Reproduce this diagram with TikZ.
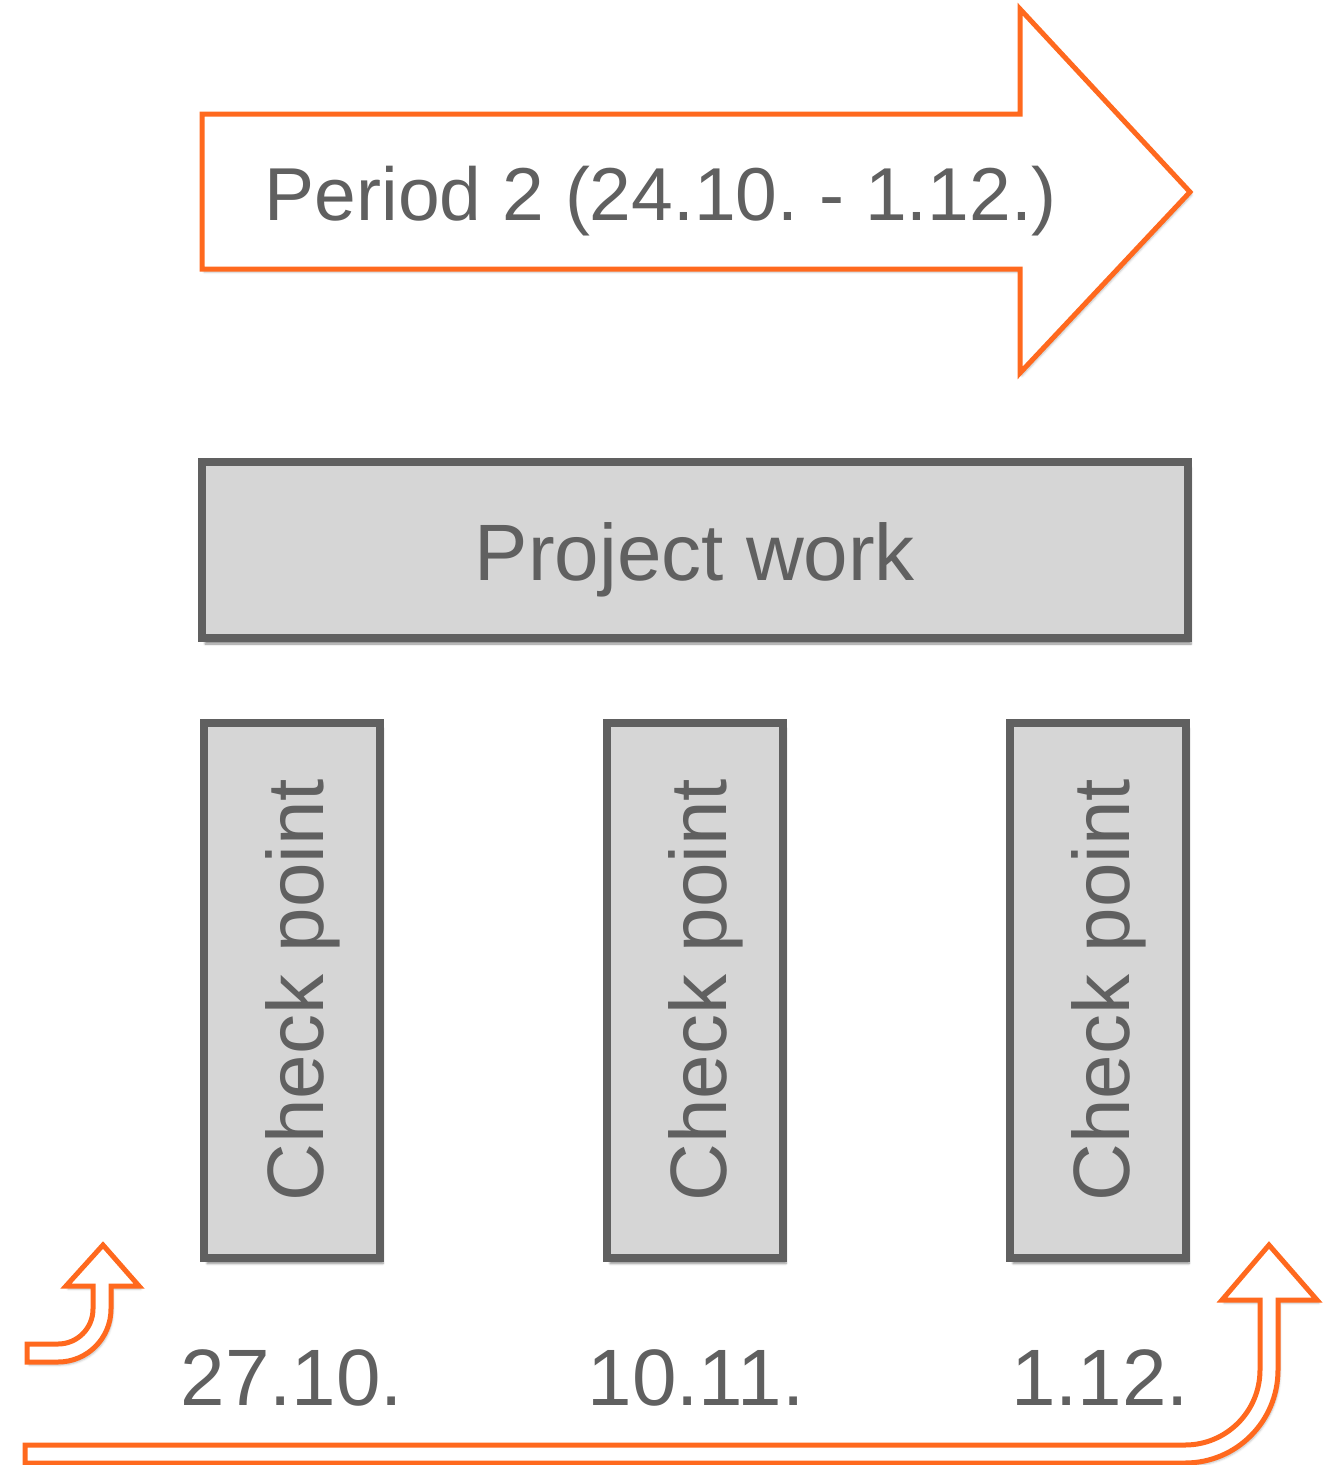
\documentclass[tikz,border=0pt]{standalone}
\usepackage{fontspec}
\setmainfont{Liberation Sans}
\usetikzlibrary{shadows.blur}
\definecolor{periodorange}{RGB}{255,105,30}
\definecolor{boxfill}{RGB}{214,214,214}
\definecolor{boxedge}{RGB}{96,96,96}
\tikzset{every node/.style={font=\fontsize{80}{92}\selectfont,text=boxedge},line cap=round,line join=round}
\tikzset{
  workbox/.style={draw=boxedge,line width=8pt,fill=boxfill,inner sep=0pt,text height=60pt,text depth=0pt,
    blur shadow={shadow xshift=3pt,shadow yshift=-6pt,shadow blur steps=6,shadow opacity=45}},
  checkbox/.style={workbox,rotate=90,minimum width=535pt,minimum height=176pt,text height=62pt},
  orangearrow/.style={draw=periodorange,line width=5pt,fill=white,
    blur shadow={shadow xshift=2pt,shadow yshift=-3pt,shadow blur steps=4,shadow opacity=25}}
}

\begin{document}
\frenchspacing
\begin{tikzpicture}[x=1pt,y=-1pt]
  \path[use as bounding box] (0,0) rectangle (1329,1465);
  % period arrow on top
  \draw[orangearrow] (202,114)--(1020,114)--(1020,9)--(1190,192)--(1020,373)--(1020,269)--(202,269)--cycle;
  \node[anchor=base,font=\fontsize{75}{88}\selectfont] (period) at (661,220) {Period 2 (24.10. - 1.12.)};

  \node[workbox,minimum width=986pt,minimum height=176pt] (work) at (695,550) {Project work};

  \node[checkbox] (cp1) at (292,990) {Check point};
  \node[checkbox] (cp2) at (695,990) {Check point};
  \node[checkbox] (cp3) at (1098,990) {Check point};

  \node[anchor=base] (d1) at (292,1405) {27.10.};
  \node[anchor=base] (d2) at (696,1405) {10.11.};
  \node[anchor=base] (d3) at (1100,1405) {1.12.};

  % bent arrows at the bottom
  \draw[orangearrow] (27,1344)--(58,1344) arc[start angle=90,end angle=0,radius=35]
    --(93,1286)--(66,1286)--(103,1245)--(139,1286)--(111,1286)--(111,1309)
    arc[start angle=0,end angle=90,radius=53]--(27,1362)--cycle;
  \draw[orangearrow] (25,1445)--(1185,1445) arc[start angle=90,end angle=0,radius=75]
    --(1260,1300)--(1222,1300)--(1269,1245)--(1317,1300)--(1278,1300)--(1278,1370)
    arc[start angle=0,end angle=90,radius=93]--(25,1463)--cycle;
\end{tikzpicture}
\end{document}
